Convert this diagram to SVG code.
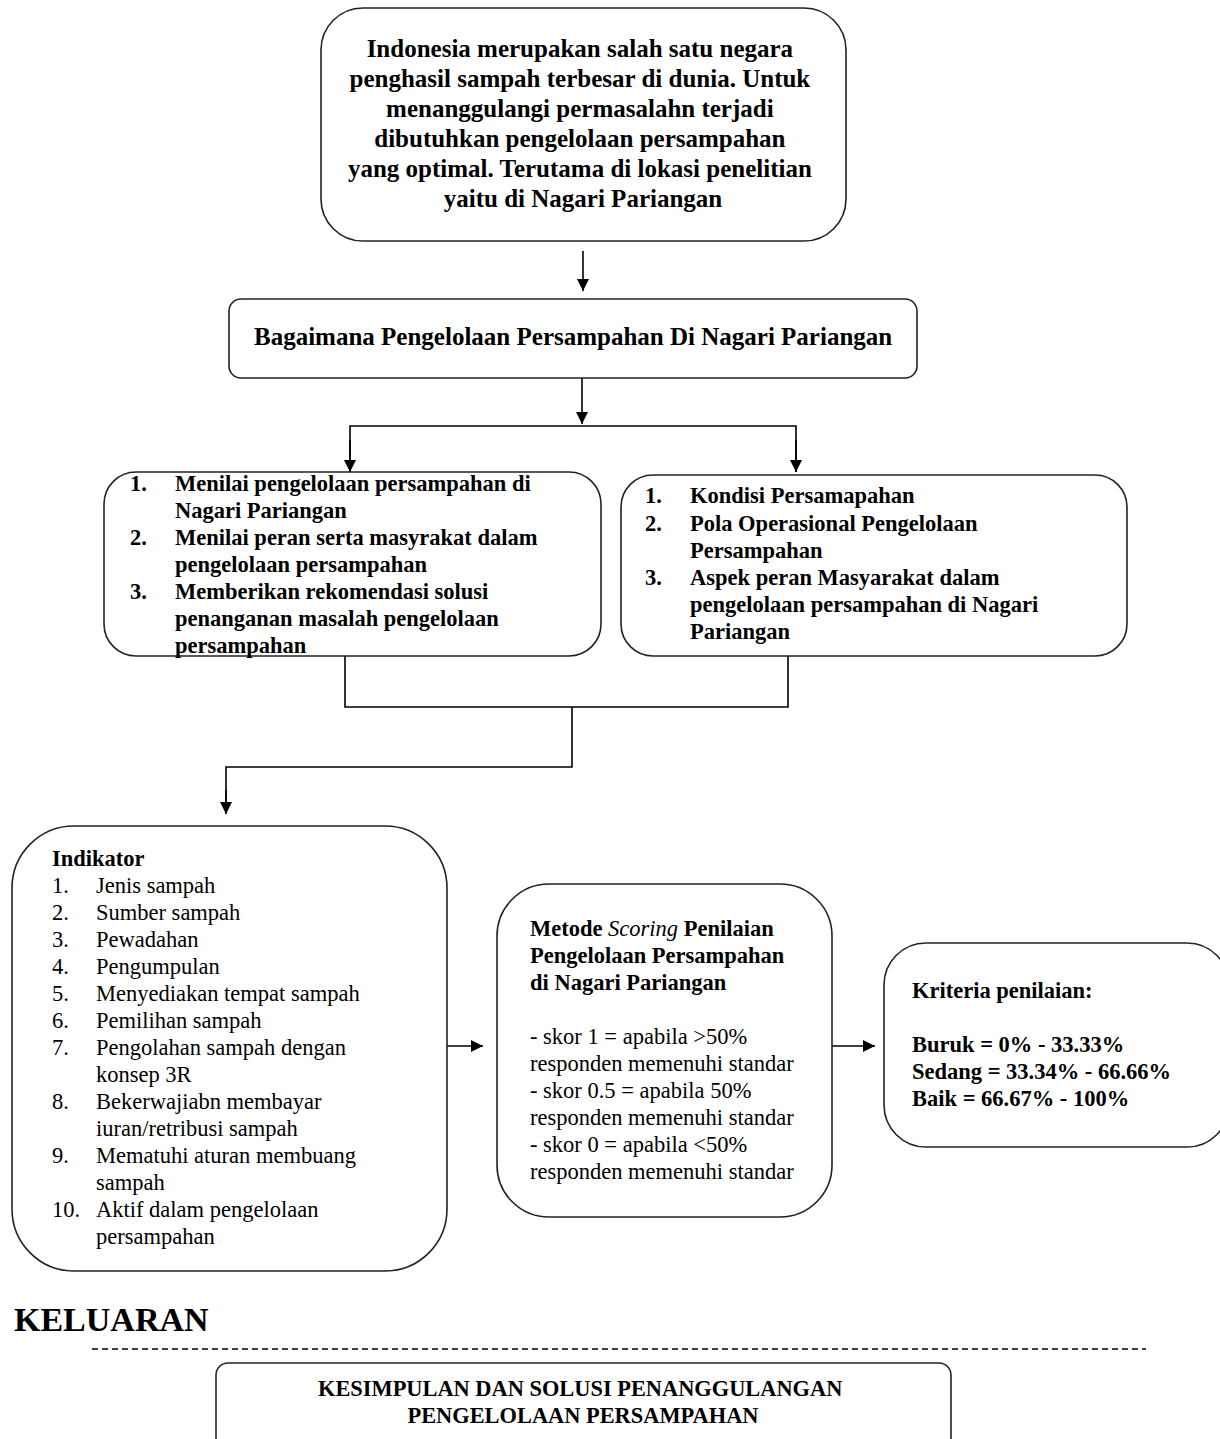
<svg xmlns="http://www.w3.org/2000/svg" width="1220" height="1439" viewBox="0 0 1220 1439">
<defs>
<style>
.box{fill:#fff;stroke:#222;stroke-width:1.6}
.t{font-family:"Liberation Serif","Times New Roman",serif;fill:#000}
.b{font-weight:bold}
.c{text-anchor:middle}
.s25{font-size:25px}
.s22{font-size:22.5px}
.s20{font-size:22.4px}
.ln{fill:none;stroke:#000;stroke-width:1.6}
</style>
<marker id="ah2" viewBox="0 0 10 10" refX="10" refY="5" markerWidth="12" markerHeight="12" orient="auto" markerUnits="userSpaceOnUse">
<path d="M0,0 L10,5 L0,10 z" fill="#000"/>
</marker>
</defs>
<rect width="1220" height="1439" fill="#fff"/>

<g id="connectors">
<line class="ln" x1="583" y1="251" x2="583" y2="291" marker-end="url(#ah2)"/>
<line class="ln" x1="582" y1="378" x2="582" y2="424" marker-end="url(#ah2)"/>
<polyline class="ln" points="350,472 350,426 796,426 796,472"/>
<line class="ln" x1="350" y1="440" x2="350" y2="472" marker-end="url(#ah2)"/>
<line class="ln" x1="796" y1="440" x2="796" y2="472" marker-end="url(#ah2)"/>
<polyline class="ln" points="345,656 345,707 788,707 788,656"/>
<polyline class="ln" points="572,707 572,767 226,767 226,812"/>
<line class="ln" x1="226" y1="790" x2="226" y2="814" marker-end="url(#ah2)"/>
<line class="ln" x1="447" y1="1046" x2="483" y2="1046" marker-end="url(#ah2)"/>
<line class="ln" x1="832" y1="1046" x2="875" y2="1046" marker-end="url(#ah2)"/>
<line x1="92" y1="1349" x2="1146" y2="1349" stroke="#000" stroke-width="1.3" stroke-dasharray="6,4"/>
</g>

<g id="n1">
<rect class="box" x="321" y="8" width="525" height="233" rx="42"/>
<text class="t b c s25" x="583">
<tspan x="583" y="57">Indonesia merupakan salah satu negara</tspan>
<tspan x="583" y="87">penghasil sampah terbesar di dunia. Untuk</tspan>
<tspan x="583" y="117">menanggulangi permasalahn terjadi</tspan>
<tspan x="583" y="147">dibutuhkan pengelolaan persampahan</tspan>
<tspan x="583" y="177">yang optimal. Terutama di lokasi penelitian</tspan>
<tspan x="583" y="207">yaitu di Nagari Pariangan</tspan>
</text>
</g>

<g id="n2">
<rect class="box" x="229" y="299" width="688" height="79" rx="12"/>
<text class="t b s25" x="254" y="345">Bagaimana Pengelolaan Persampahan Di Nagari Pariangan</text>
</g>

<g id="n3">
<rect class="box" x="104" y="472" width="497" height="184" rx="32"/>
<text class="t b s22">
<tspan x="130" y="491">1.</tspan><tspan x="175" y="491">Menilai pengelolaan persampahan di</tspan>
<tspan x="175" y="518">Nagari Pariangan</tspan>
<tspan x="130" y="545">2.</tspan><tspan x="175" y="545">Menilai peran serta masyrakat dalam</tspan>
<tspan x="175" y="572">pengelolaan persampahan</tspan>
<tspan x="130" y="599">3.</tspan><tspan x="175" y="599">Memberikan rekomendasi solusi</tspan>
<tspan x="175" y="626">penanganan masalah pengelolaan</tspan>
<tspan x="175" y="653">persampahan</tspan>
</text>
</g>

<g id="n4">
<rect class="box" x="621" y="475" width="506" height="181" rx="32"/>
<text class="t b s22">
<tspan x="645" y="503">1.</tspan><tspan x="690" y="503">Kondisi Persamapahan</tspan>
<tspan x="645" y="531">2.</tspan><tspan x="690" y="531">Pola Operasional Pengelolaan</tspan>
<tspan x="690" y="558">Persampahan</tspan>
<tspan x="645" y="585">3.</tspan><tspan x="690" y="585">Aspek peran Masyarakat dalam</tspan>
<tspan x="690" y="612">pengelolaan persampahan di Nagari</tspan>
<tspan x="690" y="639">Pariangan</tspan>
</text>
</g>

<g id="n5">
<rect class="box" x="12" y="826" width="435" height="445" rx="62"/>
<text class="t b s22" x="52" y="866">Indikator</text>
<text class="t s22">
<tspan x="52" y="893">1.</tspan><tspan x="96" y="893">Jenis sampah</tspan>
<tspan x="52" y="920">2.</tspan><tspan x="96" y="920">Sumber sampah</tspan>
<tspan x="52" y="947">3.</tspan><tspan x="96" y="947">Pewadahan</tspan>
<tspan x="52" y="974">4.</tspan><tspan x="96" y="974">Pengumpulan</tspan>
<tspan x="52" y="1001">5.</tspan><tspan x="96" y="1001">Menyediakan tempat sampah</tspan>
<tspan x="52" y="1028">6.</tspan><tspan x="96" y="1028">Pemilihan sampah</tspan>
<tspan x="52" y="1055">7.</tspan><tspan x="96" y="1055">Pengolahan sampah dengan</tspan>
<tspan x="96" y="1082">konsep 3R</tspan>
<tspan x="52" y="1109">8.</tspan><tspan x="96" y="1109">Bekerwajiabn membayar</tspan>
<tspan x="96" y="1136">iuran/retribusi sampah</tspan>
<tspan x="52" y="1163">9.</tspan><tspan x="96" y="1163">Mematuhi aturan membuang</tspan>
<tspan x="96" y="1190">sampah</tspan>
<tspan x="52" y="1217">10.</tspan><tspan x="96" y="1217">Aktif dalam pengelolaan</tspan>
<tspan x="96" y="1244">persampahan</tspan>
</text>
</g>

<g id="n6">
<rect class="box" x="497" y="884" width="335" height="333" rx="52"/>
<text class="t b s22">
<tspan x="530" y="936">Metode <tspan font-style="italic" font-weight="normal">Scoring</tspan> Penilaian</tspan>
<tspan x="530" y="963">Pengelolaan Persampahan</tspan>
<tspan x="530" y="990">di Nagari Pariangan</tspan>
</text>
<text class="t s22">
<tspan x="530" y="1044">- skor 1 = apabila &gt;50%</tspan>
<tspan x="530" y="1071">responden memenuhi standar</tspan>
<tspan x="530" y="1098">- skor 0.5 = apabila 50%</tspan>
<tspan x="530" y="1125">responden memenuhi standar</tspan>
<tspan x="530" y="1152">- skor 0 = apabila &lt;50%</tspan>
<tspan x="530" y="1179">responden memenuhi standar</tspan>
</text>
</g>

<g id="n7">
<rect class="box" x="884" y="943" width="345" height="204" rx="42"/>
<text class="t b s22">
<tspan x="912" y="998">Kriteria penilaian:</tspan>
<tspan x="912" y="1052">Buruk = 0% - 33.33%</tspan>
<tspan x="912" y="1079">Sedang = 33.34% - 66.66%</tspan>
<tspan x="912" y="1106">Baik = 66.67% - 100%</tspan>
</text>
</g>

<text class="t b" x="14" y="1331" font-size="34">KELUARAN</text>

<g id="n8">
<rect class="box" x="216" y="1363" width="735" height="90" rx="12"/>
<text class="t b c s20">
<tspan x="583" y="1396">KESIMPULAN DAN SOLUSI PENANGGULANGAN</tspan>
<tspan x="583" y="1423">PENGELOLAAN PERSAMPAHAN</tspan>
</text>
</g>
</svg>
